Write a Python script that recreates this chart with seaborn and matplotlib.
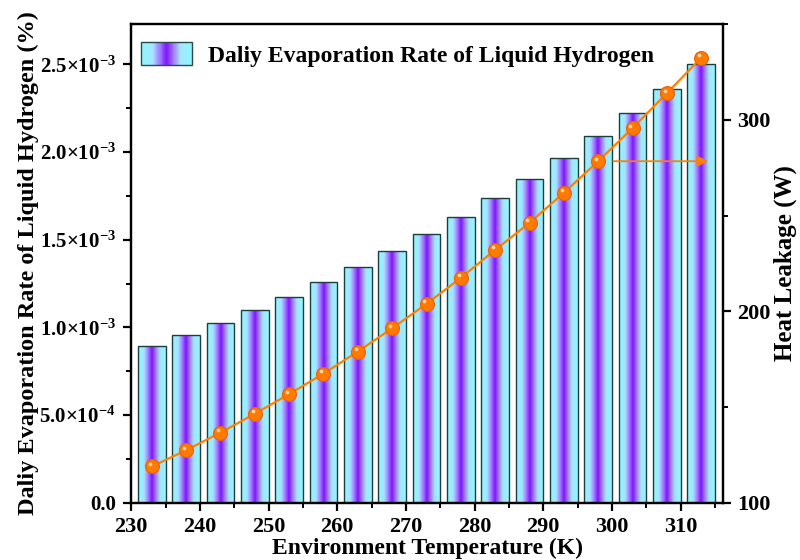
import numpy as np
import pandas as pd
import matplotlib
matplotlib.use("Agg")
import matplotlib.pyplot as plt
import seaborn as sns
from matplotlib.colors import LinearSegmentedColormap
from matplotlib.legend_handler import HandlerBase
from matplotlib.patches import Rectangle, Patch
from matplotlib.ticker import MultipleLocator, FuncFormatter
import matplotlib.transforms as mtransforms

# Environment temperature (K)
temperature = [233, 238, 243, 248, 253, 258, 263, 268, 273, 278,
               283, 288, 293, 298, 303, 308, 313]
# Daily evaporation rate of liquid hydrogen (%)
evaporation_rate = [0.895e-3, 0.960e-3, 1.028e-3, 1.102e-3, 1.176e-3, 1.258e-3,
                    1.345e-3, 1.438e-3, 1.532e-3, 1.632e-3, 1.737e-3, 1.849e-3,
                    1.969e-3, 2.094e-3, 2.223e-3, 2.359e-3, 2.501e-3]
# Heat leakage (W)
heat_leakage = [119.0, 127.5, 136.7, 146.5, 156.8, 167.5, 179.0, 191.2, 203.9,
                217.5, 232.1, 246.2, 261.9, 278.4, 295.7, 313.9, 332.4]

bar_label = "Daliy Evaporation Rate of Liquid Hydrogen"

df = pd.DataFrame({"T": temperature, "rate": evaporation_rate, "Q": heat_leakage})

sns.set_theme(style="ticks")
plt.rcParams["font.family"] = ["Liberation Serif", "DejaVu Serif"]
plt.rcParams["font.weight"] = "bold"
plt.rcParams["text.color"] = "black"
plt.rcParams["axes.labelcolor"] = "black"
plt.rcParams["xtick.color"] = "black"
plt.rcParams["ytick.color"] = "black"
plt.rcParams["mathtext.fontset"] = "custom"
plt.rcParams["mathtext.rm"] = "Liberation Serif:bold"
plt.rcParams["mathtext.bf"] = "Liberation Serif:bold"
plt.rcParams["mathtext.it"] = "Liberation Serif:bold:italic"

bar_cmap = LinearSegmentedColormap.from_list(
    "cyan_violet",
    [(0.0, "#8ef8ff"), (0.22, "#a6e4ff"), (0.38, "#a070ff"),
     (0.5, "#7f10ff"), (0.62, "#a070ff"), (0.78, "#a6e4ff"), (1.0, "#8ef8ff")])

fig = plt.figure(figsize=(8, 5.6), dpi=100)
ax = fig.add_axes([0.164, 0.102, 0.740, 0.855])

sns.barplot(data=df, x="T", y="rate", native_scale=True, ax=ax,
            color="#8ef8ff", edgecolor="#1f3d3d", linewidth=1.0, saturation=1)

# horizontal gradient fill inside each bar
grad = np.linspace(0, 1, 256).reshape(1, -1)
for bar in ax.patches:
    x0, y0 = bar.get_x(), bar.get_y()
    w, h = bar.get_width(), bar.get_height()
    im = ax.imshow(grad, cmap=bar_cmap, extent=(x0, x0 + w, y0, y0 + h),
                   aspect="auto", origin="lower", zorder=0.9, interpolation="bicubic")
    im.set_clip_path(bar)
    bar.set_facecolor("none")
    bar.set_zorder(1)

ax.set_xlim(230, 316.2)
ax.set_ylim(0, 2.73e-3)
ax.xaxis.set_major_locator(MultipleLocator(10))
ax.xaxis.set_minor_locator(MultipleLocator(5))
ax.yaxis.set_major_locator(MultipleLocator(0.5e-3))
ax.yaxis.set_minor_locator(MultipleLocator(0.25e-3))


def sci_fmt(v, pos):
    if v <= 1e-12:
        return "0.0"
    exp = int(np.floor(np.log10(v) + 1e-9))
    mant = v / 10 ** exp
    return rf"${mant:.1f}×10^{{{exp}}}$"


ax.yaxis.set_major_formatter(FuncFormatter(sci_fmt))
ax.set_xlabel("Environment Temperature (K)", fontsize=17, fontweight="bold", labelpad=1)
ax.set_ylabel("Daliy Evaporation Rate of Liquid Hydrogen (%)", fontsize=17.5,
              fontweight="bold", labelpad=0)

ax2 = ax.twinx()
ax2.set_ylim(100, 350)
ax2.yaxis.set_major_locator(MultipleLocator(100))
ax2.yaxis.set_minor_locator(MultipleLocator(50))
ax2.set_ylabel("Heat Leakage (W)", fontsize=18, fontweight="bold", labelpad=2)

sns.lineplot(data=df, x="T", y="Q", ax=ax2, color="#ff8000", linewidth=1.6,
             marker="o", markersize=10, markerfacecolor="#ff7a00",
             markeredgecolor="#e86400", markeredgewidth=0.8, legend=False)
# glossy highlight on each marker
hl = mtransforms.offset_copy(ax2.transData, fig=fig, x=-1.6, y=1.8, units="points")
ax2.scatter(df["T"], df["Q"], s=7, color="#ffe6c8", alpha=0.85, transform=hl,
            zorder=5, linewidths=0)

# arrow indicating the right-hand axis
i_arrow = 13
ax2.annotate("", xy=(temperature[-1] + 1.0, heat_leakage[i_arrow]),
             xytext=(temperature[i_arrow] + 2.2, heat_leakage[i_arrow]),
             arrowprops=dict(arrowstyle="-|>", color="#ff8000", lw=1.3,
                             mutation_scale=16, shrinkA=0, shrinkB=0))

for a in (ax, ax2):
    for s in a.spines.values():
        s.set_linewidth(1.6)
        s.set_color("black")
    a.tick_params(which="major", direction="out", length=6, width=1.6,
                  labelsize=16, color="black", labelcolor="black", pad=4)
    a.tick_params(which="minor", direction="out", length=3.5, width=1.4, color="black")
    for lab in a.get_xticklabels() + a.get_yticklabels():
        lab.set_fontweight("bold")
ax.tick_params(axis="y", which="major", labelsize=15, pad=5)
ax.xaxis.set_ticks_position("bottom")
ax2.xaxis.set_ticks_position("bottom")


class GradientHandler(HandlerBase):
    def create_artists(self, legend, orig_handle, xdescent, ydescent,
                       width, height, fontsize, trans):
        n = 60
        arts = []
        for i in range(n):
            arts.append(Rectangle((-xdescent + width * i / n, -ydescent),
                                  width / n * 1.05, height,
                                  facecolor=bar_cmap(i / (n - 1)), linewidth=0,
                                  transform=trans))
        arts.append(Rectangle((-xdescent, -ydescent), width, height,
                              facecolor="none", edgecolor="#2b4a4a",
                              linewidth=1.0, transform=trans))
        return arts


handle = Patch(label=bar_label)
ax2.legend(handles=[handle], handler_map={Patch: GradientHandler()},
           loc="upper left", bbox_to_anchor=(0.017, 0.962), frameon=False,
           borderpad=0, borderaxespad=0, handlelength=2.15, handleheight=1.1,
           handletextpad=0.68, prop={"size": 17, "weight": "bold"})

fig.savefig("out.png", dpi=100)
